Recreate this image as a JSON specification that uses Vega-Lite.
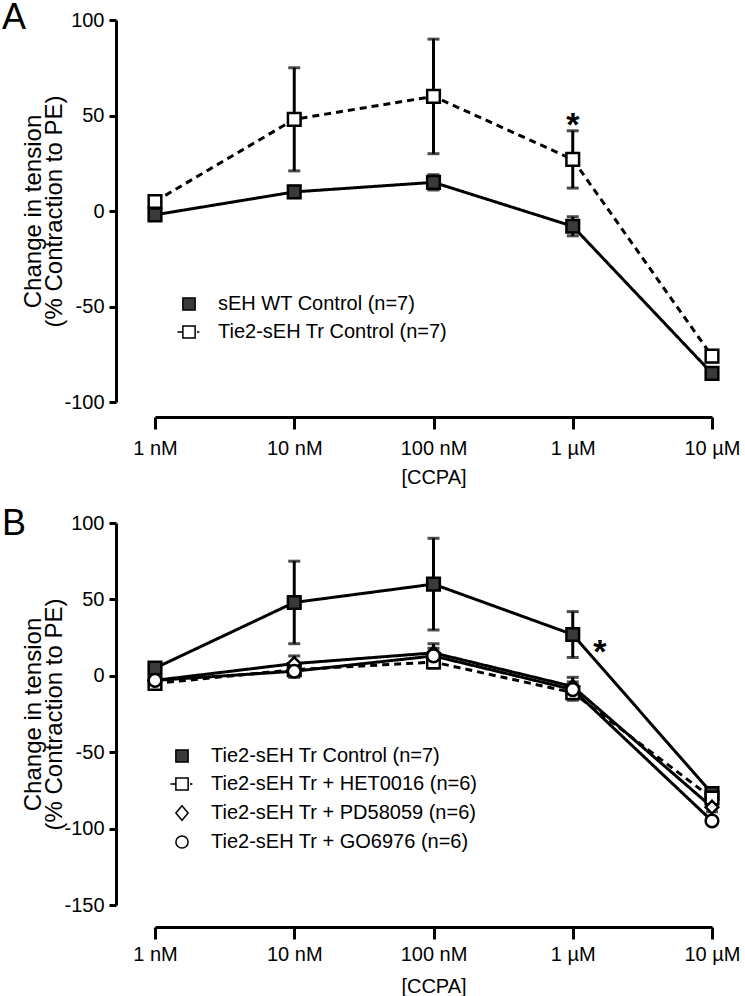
{
  "$schema": "https://vega.github.io/schema/vega-lite/v6.json",
  "padding": {"left": 2, "top": 0, "right": 0, "bottom": 0},
  "background": "white",
  "spacing": 121,
  "bounds": "flush",
  "resolve": {"scale": {"strokeDash": "independent", "shape": "independent", "fill": "independent", "y": "independent"}},
  "config": {
    "view": {"stroke": null},
    "font": "Liberation Sans",
    "axis": {"grid": false, "domainColor": "black", "domainWidth": 3, "tickColor": "black", "tickWidth": 3, "labelColor": "black", "labelFontSize": 20, "labelFont": "Liberation Sans", "titleColor": "black", "titleFont": "Liberation Sans", "titleFontWeight": "normal", "labelFlush": false, "labelOverlap": false, "labelBound": false},
    "title": {"font": "Liberation Sans", "color": "black", "fontWeight": "normal"}
  },
  "vconcat": [
    {
      "width": 557,
      "height": 382,
      "title": {"text": "A", "anchor": "start", "frame": "group", "fontSize": 36, "baseline": "alphabetic", "offset": 0, "dx": -153, "dy": 55},
      "data": {"values": [
        {"series": "sEH WT Control (n=7)", "conc": 1, "mean": -2, "err": 2},
        {"series": "sEH WT Control (n=7)", "conc": 10, "mean": 10, "err": 3},
        {"series": "sEH WT Control (n=7)", "conc": 100, "mean": 15, "err": 4},
        {"series": "sEH WT Control (n=7)", "conc": 1000, "mean": -8, "err": 5},
        {"series": "sEH WT Control (n=7)", "conc": 10000, "mean": -85, "err": 2},
        {"series": "Tie2-sEH Tr Control (n=7)", "conc": 1, "mean": 5, "err": 2},
        {"series": "Tie2-sEH Tr Control (n=7)", "conc": 10, "mean": 48, "err": 27},
        {"series": "Tie2-sEH Tr Control (n=7)", "conc": 100, "mean": 60, "err": 30},
        {"series": "Tie2-sEH Tr Control (n=7)", "conc": 1000, "mean": 27, "err": 15},
        {"series": "Tie2-sEH Tr Control (n=7)", "conc": 10000, "mean": -76, "err": 3}
      ]},
      "encoding": {
        "x": {"field": "conc", "type": "quantitative", "scale": {"type": "log", "domain": [1, 10000], "nice": false},
          "axis": {"title": "[CCPA]", "values": [1, 10, 100, 1000, 10000], "labelExpr": "datum.value == 1 ? '1 nM' : datum.value == 10 ? '10 nM' : datum.value == 100 ? '100 nM' : datum.value == 1000 ? '1 µM' : '10 µM'", "offset": 15, "tickSize": 12, "labelPadding": 9, "titleFontSize": 20, "titlePadding": 9}},
        "y": {"field": "mean", "type": "quantitative", "scale": {"domain": [-100, 100], "nice": false, "zero": false},
          "axis": {"title": ["Change in tension", "(% Contraction to PE)"], "values": [-100, -50, 0, 50, 100], "labelExpr": "datum.value + ''", "offset": 39, "tickSize": 7, "labelPadding": 5, "titleFontSize": 24, "titleLineHeight": 21, "titlePadding": -3}}
      },
      "layer": [
        {"mark": {"type": "line", "strokeWidth": 3, "color": "black"},
         "encoding": {"strokeDash": {"field": "series", "type": "nominal", "scale": {"domain": ["sEH WT Control (n=7)", "Tie2-sEH Tr Control (n=7)"], "range": [[1, 0], [7, 5]]}, "legend": null}}},
        {"mark": {"type": "errorbar", "color": "black", "thickness": 3, "ticks": {"size": 12, "thickness": 3, "color": "black"}},
         "encoding": {"y": {"field": "mean", "type": "quantitative"}, "yError": {"field": "err"}, "detail": {"field": "series"}}},
        {"mark": {"type": "point", "filled": true, "stroke": "black", "strokeWidth": 2.5, "size": 160, "opacity": 1},
         "encoding": {
           "shape": {"field": "series", "type": "nominal", "scale": {"domain": ["sEH WT Control (n=7)", "Tie2-sEH Tr Control (n=7)"], "range": ["square", "square"]}, "legend": null},
           "fill": {"field": "series", "type": "nominal", "scale": {"domain": ["sEH WT Control (n=7)", "Tie2-sEH Tr Control (n=7)"], "range": ["#3a3a3a", "white"]}, "legend": null}}},
        {"transform": [{"filter": "false"}],
         "mark": {"type": "point", "filled": true, "stroke": "black", "strokeWidth": 2.5, "size": 150, "opacity": 1},
         "encoding": {
           "shape": {"field": "series", "type": "nominal", "scale": {"domain": ["sEH WT Control (n=7)", "Tie2-sEH Tr Control (n=7)"], "range": ["M-1,-1H1V1H-1Z", "M-1.9,0H-1M-1,-1H1V1H-1ZM1.3,0H1.7"]},
             "legend": {"orient": "none", "legendX": 24, "legendY": 274, "title": null, "labelFontSize": 20, "labelColor": "black", "labelOffset": 19, "labelLimit": 500, "rowPadding": 8, "symbolSize": 150, "padding": 0,
               "encode": {"symbols": {"update": {"stroke": {"value": "black"}, "strokeWidth": {"value": 2.8}, "opacity": {"value": 1}}}}}},
           "fill": {"field": "series", "type": "nominal", "scale": {"domain": ["sEH WT Control (n=7)", "Tie2-sEH Tr Control (n=7)"], "range": ["#3a3a3a", "white"]},
             "legend": {"orient": "none", "legendX": 24, "legendY": 274, "title": null, "labelFontSize": 20, "labelColor": "black", "labelOffset": 19, "labelLimit": 500, "rowPadding": 8, "symbolSize": 150, "padding": 0,
               "encode": {"symbols": {"update": {"stroke": {"value": "black"}, "strokeWidth": {"value": 2.8}, "opacity": {"value": 1}}}}}}}},
        {"data": {"values": [{"conc": 1000, "mean": 49, "label": "*"}]},
         "mark": {"type": "text", "fontSize": 34, "fontWeight": "bold", "color": "black", "baseline": "alphabetic", "dy": 19},
         "encoding": {"text": {"field": "label"}}}
      ],
      "resolve": {"scale": {"shape": "independent", "fill": "independent"}}
    },
    {
      "width": 557,
      "height": 382,
      "title": {"text": "B", "anchor": "start", "frame": "group", "fontSize": 36, "baseline": "alphabetic", "offset": 0, "dx": -153, "dy": 58},
      "data": {"values": [
        {"series": "Tie2-sEH Tr Control (n=7)", "conc": 1, "mean": 5, "err": 2},
        {"series": "Tie2-sEH Tr Control (n=7)", "conc": 10, "mean": 48, "err": 27},
        {"series": "Tie2-sEH Tr Control (n=7)", "conc": 100, "mean": 60, "err": 30},
        {"series": "Tie2-sEH Tr Control (n=7)", "conc": 1000, "mean": 27, "err": 15},
        {"series": "Tie2-sEH Tr Control (n=7)", "conc": 10000, "mean": -77, "err": 3},
        {"series": "Tie2-sEH Tr + HET0016 (n=6)", "conc": 1, "mean": -5, "err": 2},
        {"series": "Tie2-sEH Tr + HET0016 (n=6)", "conc": 10, "mean": 4, "err": 4},
        {"series": "Tie2-sEH Tr + HET0016 (n=6)", "conc": 100, "mean": 9, "err": 4},
        {"series": "Tie2-sEH Tr + HET0016 (n=6)", "conc": 1000, "mean": -11, "err": 5},
        {"series": "Tie2-sEH Tr + HET0016 (n=6)", "conc": 10000, "mean": -80, "err": 3},
        {"series": "Tie2-sEH Tr + PD58059 (n=6)", "conc": 1, "mean": -3, "err": 3},
        {"series": "Tie2-sEH Tr + PD58059 (n=6)", "conc": 10, "mean": 8, "err": 5},
        {"series": "Tie2-sEH Tr + PD58059 (n=6)", "conc": 100, "mean": 15, "err": 6},
        {"series": "Tie2-sEH Tr + PD58059 (n=6)", "conc": 1000, "mean": -7, "err": 6},
        {"series": "Tie2-sEH Tr + PD58059 (n=6)", "conc": 10000, "mean": -86, "err": 3},
        {"series": "Tie2-sEH Tr + GO6976 (n=6)", "conc": 1, "mean": -3, "err": 2},
        {"series": "Tie2-sEH Tr + GO6976 (n=6)", "conc": 10, "mean": 3, "err": 4},
        {"series": "Tie2-sEH Tr + GO6976 (n=6)", "conc": 100, "mean": 13, "err": 5},
        {"series": "Tie2-sEH Tr + GO6976 (n=6)", "conc": 1000, "mean": -9, "err": 5},
        {"series": "Tie2-sEH Tr + GO6976 (n=6)", "conc": 10000, "mean": -95, "err": 2}
      ]},
      "encoding": {
        "x": {"field": "conc", "type": "quantitative", "scale": {"type": "log", "domain": [1, 10000], "nice": false},
          "axis": {"title": "[CCPA]", "values": [1, 10, 100, 1000, 10000], "labelExpr": "datum.value == 1 ? '1 nM' : datum.value == 10 ? '10 nM' : datum.value == 100 ? '100 nM' : datum.value == 1000 ? '1 µM' : '10 µM'", "offset": 22, "tickSize": 12, "labelPadding": 5, "titleFontSize": 20, "titlePadding": 12}},
        "y": {"field": "mean", "type": "quantitative", "scale": {"domain": [-150, 100], "nice": false, "zero": false},
          "axis": {"title": ["Change in tension", "(% Contraction to PE)"], "values": [-150, -100, -50, 0, 50, 100], "labelExpr": "datum.value + ''", "offset": 39, "tickSize": 7, "labelPadding": 5, "titleFontSize": 24, "titleLineHeight": 21, "titlePadding": -3}}
      },
      "layer": [
        {"mark": {"type": "line", "strokeWidth": 3, "color": "black"},
         "encoding": {"strokeDash": {"field": "series", "type": "nominal", "scale": {"domain": ["Tie2-sEH Tr Control (n=7)", "Tie2-sEH Tr + HET0016 (n=6)", "Tie2-sEH Tr + PD58059 (n=6)", "Tie2-sEH Tr + GO6976 (n=6)"], "range": [[1, 0], [7, 5], [1, 0], [1, 0]]}, "legend": null}}},
        {"mark": {"type": "errorbar", "color": "black", "thickness": 3, "ticks": {"size": 12, "thickness": 3, "color": "black"}},
         "encoding": {"y": {"field": "mean", "type": "quantitative"}, "yError": {"field": "err"}, "detail": {"field": "series"}}},
        {"mark": {"type": "point", "filled": true, "stroke": "black", "strokeWidth": 2.5, "size": 160, "opacity": 1},
         "encoding": {
           "shape": {"field": "series", "type": "nominal", "scale": {"domain": ["Tie2-sEH Tr Control (n=7)", "Tie2-sEH Tr + HET0016 (n=6)", "Tie2-sEH Tr + PD58059 (n=6)", "Tie2-sEH Tr + GO6976 (n=6)"], "range": ["square", "square", "diamond", "circle"]}, "legend": null},
           "fill": {"field": "series", "type": "nominal", "scale": {"domain": ["Tie2-sEH Tr Control (n=7)", "Tie2-sEH Tr + HET0016 (n=6)", "Tie2-sEH Tr + PD58059 (n=6)", "Tie2-sEH Tr + GO6976 (n=6)"], "range": ["#3a3a3a", "white", "white", "white"]}, "legend": null}}},
        {"transform": [{"filter": "false"}],
         "mark": {"type": "point", "filled": true, "stroke": "black", "strokeWidth": 2.5, "size": 150, "opacity": 1},
         "encoding": {
           "shape": {"field": "series", "type": "nominal", "scale": {"domain": ["Tie2-sEH Tr Control (n=7)", "Tie2-sEH Tr + HET0016 (n=6)", "Tie2-sEH Tr + PD58059 (n=6)", "Tie2-sEH Tr + GO6976 (n=6)"], "range": ["M-1,-1H1V1H-1Z", "M-1.9,0H-1M-1,-1H1V1H-1ZM1.3,0H1.7", "M0,-1.2L1,0L0,1.2L-1,0Z", "circle"]},
             "legend": {"orient": "none", "legendX": 17, "legendY": 223, "title": null, "labelFontSize": 20, "labelColor": "black", "labelOffset": 19, "labelLimit": 500, "rowPadding": 8, "symbolSize": 150, "padding": 0,
               "encode": {"symbols": {"update": {"stroke": {"value": "black"}, "strokeWidth": {"value": 2.8}, "opacity": {"value": 1}}}}}},
           "fill": {"field": "series", "type": "nominal", "scale": {"domain": ["Tie2-sEH Tr Control (n=7)", "Tie2-sEH Tr + HET0016 (n=6)", "Tie2-sEH Tr + PD58059 (n=6)", "Tie2-sEH Tr + GO6976 (n=6)"], "range": ["#3a3a3a", "white", "white", "white"]},
             "legend": {"orient": "none", "legendX": 17, "legendY": 223, "title": null, "labelFontSize": 20, "labelColor": "black", "labelOffset": 19, "labelLimit": 500, "rowPadding": 8, "symbolSize": 150, "padding": 0,
               "encode": {"symbols": {"update": {"stroke": {"value": "black"}, "strokeWidth": {"value": 2.8}, "opacity": {"value": 1}}}}}}}},
        {"data": {"values": [{"conc": 1000, "mean": 21, "label": "*"}]},
         "mark": {"type": "text", "fontSize": 34, "fontWeight": "bold", "color": "black", "baseline": "alphabetic", "dx": 27, "dy": 19},
         "encoding": {"text": {"field": "label"}}}
      ],
      "resolve": {"scale": {"shape": "independent", "fill": "independent"}}
    }
  ]
}
